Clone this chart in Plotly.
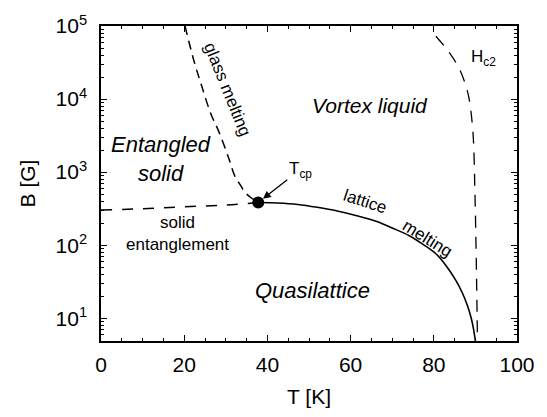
import plotly.graph_objects as go

# ---- data (T in K, B in G) ----
melt_T = [37.8, 42.5, 47.3, 52.0, 56.8, 61.5, 66.3, 70.0, 74.1, 77.5, 80.5, 83.0, 85.3, 86.9, 88.1, 89.0, 89.5, 90.0]
melt_B = [384, 378, 361, 330, 294, 253, 211, 172, 135, 102, 76.4, 52.0, 33.0, 22.0, 14.8, 10.0, 7.4, 4.9]

glass_T = [20.2, 22.3, 24.3, 26.4, 28.3, 30.6, 32.2, 33.4, 34.6, 36.0, 37.8]
glass_B = [100000, 34000, 14500, 6300, 3610, 1615, 875, 680, 531, 450, 384]

ent_T = [0, 10, 20, 30, 37.8]
ent_B = [303, 316, 335, 355, 384]

hc2_T = [80.5, 83.5, 86.1, 87.5, 88.4, 89.4, 89.9, 90.2, 90.4, 90.5]
hc2_B = [72400, 45000, 26300, 16500, 10700, 3610, 488, 66.4, 12.0, 4.9]

tcp_T = [37.8]
tcp_B = [384]

x_ticks = [0, 20, 40, 60, 80, 100]
y_tickvals = [10, 100, 1000, 10000, 100000]
y_ticktext = ["10<sup>1</sup>", "10<sup>2</sup>", "10<sup>3</sup>", "10<sup>4</sup>", "10<sup>5</sup>"]
y_minor = [m * 10 ** k for k in range(0, 5) for m in range(2, 10)]

FONT = "Liberation Sans, Arial, Helvetica, sans-serif"

fig = go.Figure()
fig.add_trace(go.Scatter(x=melt_T, y=melt_B, mode="lines", line=dict(color="black", width=1.6, shape="spline"),
                         showlegend=False, hoverinfo="skip"))
fig.add_trace(go.Scatter(x=glass_T, y=glass_B, mode="lines",
                         line=dict(color="black", width=1.5, dash="9px,6px", shape="spline"),
                         showlegend=False, hoverinfo="skip"))
fig.add_trace(go.Scatter(x=ent_T, y=ent_B, mode="lines",
                         line=dict(color="black", width=1.5, dash="11px,10px", shape="spline"),
                         showlegend=False, hoverinfo="skip"))
fig.add_trace(go.Scatter(x=hc2_T, y=hc2_B, mode="lines",
                         line=dict(color="black", width=1.3, dash="12px,9px", shape="spline"),
                         showlegend=False, hoverinfo="skip"))
fig.add_trace(go.Scatter(x=tcp_T, y=tcp_B, mode="markers", marker=dict(color="black", size=12),
                         showlegend=False, hoverinfo="skip"))

def txt(x, y, s, size=21, italic=True, angle=0):
    fig.add_annotation(x=x, y=y, xref="x", yref="y", text=s, showarrow=False, textangle=angle,
                       font=dict(family=FONT, size=size, color="black",
                                 style="italic" if italic else "normal"),
                       xanchor="center", yanchor="middle")

txt(14.5, 3.18, "Entangled<br>solid", 22)
txt(64.6, 3.913, "Vortex liquid", 21)
txt(50.8, 1.375, "Quasilattice", 22)
txt(18.3, 2.165, "solid<br>entanglement", 17, italic=False)
txt(30.4, 4.133, "glass melting", 17, italic=False, angle=68)
txt(63.4, 2.60, "lattice", 17, italic=False, angle=18)
txt(78.4, 2.09, "melting", 17, italic=False, angle=32)
txt(91.9, 4.56, "H<sub>c2</sub>", 17, italic=False)

fig.add_annotation(x=37.8, y=2.584, xref="x", yref="y", text="T<sub>cp</sub>", showarrow=True,
                   ax=42, ay=-33, arrowhead=2, arrowsize=1.2, arrowwidth=1.3, arrowcolor="black",
                   standoff=6, font=dict(family=FONT, size=17, color="black"))

axis_common = dict(showline=True, linecolor="black", linewidth=1.5, mirror="ticks", ticks="inside",
                   tickcolor="black", tickwidth=1.2, showgrid=False, zeroline=False,
                   tickfont=dict(family=FONT, size=21, color="black"))

fig.update_xaxes(range=[0, 100], tickmode="array", tickvals=x_ticks, ticklen=6,
                 minor=dict(dtick=5, ticks="inside", ticklen=3, tickcolor="black", tickwidth=1, showgrid=False),
                 title=dict(text="T [K]", font=dict(family=FONT, size=21, color="black"), standoff=14),
                 ticklabelstandoff=4, **axis_common)
fig.update_yaxes(type="log", range=[0.689, 5.0], tickmode="array", tickvals=y_tickvals, ticktext=y_ticktext,
                 ticklen=6,
                 minor=dict(tickmode="array", tickvals=y_minor, ticks="inside", ticklen=3, tickcolor="black",
                            tickwidth=1, showgrid=False),
                 title=dict(text="B [G]", font=dict(family=FONT, size=21, color="black"), standoff=14),
                 ticklabelstandoff=8, **axis_common)

fig.update_layout(width=547, height=417, margin=dict(l=101, r=25, t=21, b=63),
                  paper_bgcolor="white", plot_bgcolor="white", font=dict(family=FONT))

fig.write_html("out.html")
